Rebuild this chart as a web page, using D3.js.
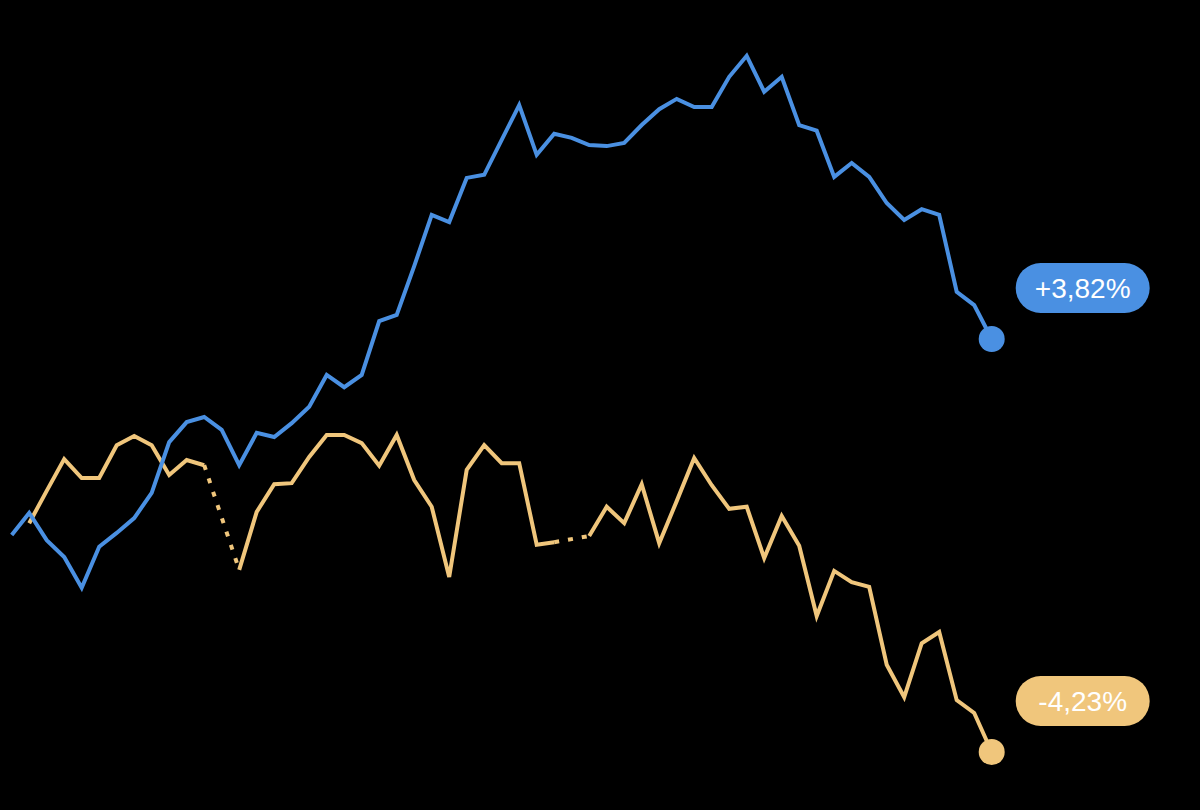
<!DOCTYPE html>
<html>
<head>
<meta charset="utf-8">
<script src="https://cdn.jsdelivr.net/npm/d3@7"></script>
<style>
  html, body { margin: 0; padding: 0; background: #000; }
  svg { display: block; }
</style>
</head>
<body>
<svg id="chart" width="1200" height="810"></svg>
<script>
// ---- data (percent change), index = time step ----
const blueValues = [0.00,0.43,-0.10,-0.43,-1.03,-0.23,0.04,0.33,0.82,1.81,
  2.20,2.30,2.05,1.36,1.99,1.91,2.18,2.50,3.12,2.88,
  3.12,4.17,4.29,5.24,6.24,6.10,6.96,7.02,7.70,8.38,
  7.41,7.82,7.74,7.60,7.58,7.64,7.99,8.30,8.50,8.34,
  8.34,8.93,9.34,8.64,8.93,7.99,7.88,6.98,7.25,6.98,
  6.47,6.14,6.35,6.24,4.74,4.48,3.82];
const orangeValues = [null,0.23,0.86,1.48,1.11,1.11,1.75,1.93,1.75,1.17,
  1.46,1.36,null,-0.68,0.45,0.99,1.01,1.52,1.95,1.95,
  1.79,1.35,1.95,1.07,0.55,-0.82,1.27,1.75,1.40,1.40,
  -0.19,-0.14,null,-0.02,0.55,0.23,0.99,-0.16,0.66,1.50,
  0.97,0.51,0.55,-0.45,0.37,-0.21,-1.58,-0.70,-0.92,-1.01,
  -2.53,-3.16,-2.11,-1.89,-3.22,-3.47,-4.23];
const seriesNames = ["blue", "orange"];
const labels = ["+3,82%", "-4,23%"];
const colors = ["#4A90E2", "#F0C67C"];

const svg = d3.select("#chart");
svg.append("rect").attr("width", 1200).attr("height", 810).attr("fill", "#000");

const n = blueValues.length;
const x = d3.scaleLinear().domain([0, n - 1]).range([11.7, 991.7]);
const y = d3.scaleLinear().domain([-4.23, 3.82]).range([752, 339]);

const series = [blueValues, orangeValues];

[1, 0].forEach(si => {
  const vals = series[si];
  const pts = vals.map((v, i) => ({i, v}));
  const color = colors[si];

  const lineAll = d3.line().x(d => x(d.i)).y(d => y(d.v));
  const defined = pts.filter(d => d.v !== null);
  const gaps = [];
  for (let k = 1; k < defined.length; k++) {
    if (defined[k].i - defined[k - 1].i > 1) gaps.push([defined[k - 1], defined[k]]);
  }
  gaps.forEach(g => {
    svg.append("path")
      .attr("d", lineAll(g))
      .attr("fill", "none")
      .attr("stroke", color)
      .attr("stroke-width", 4)
      .attr("stroke-dasharray", "5 9");
  });

  const line = d3.line()
    .defined(d => d.v !== null)
    .x(d => x(d.i)).y(d => y(d.v));
  svg.append("path")
    .attr("d", line(pts))
    .attr("fill", "none")
    .attr("stroke", color)
    .attr("stroke-width", 4)
    .attr("stroke-linejoin", "miter")
    .attr("stroke-linecap", "butt");

  const last = pts[pts.length - 1];
  svg.append("circle")
    .attr("cx", x(last.i)).attr("cy", y(last.v))
    .attr("r", 13).attr("fill", color);

  const pillW = 134, pillH = 50;
  const px = x(last.i) + 24;
  const py = y(last.v) - 51 - pillH / 2;
  svg.append("rect")
    .attr("x", px).attr("y", py)
    .attr("width", pillW).attr("height", pillH)
    .attr("rx", pillH / 2)
    .attr("fill", color);
  svg.append("text")
    .attr("x", px + pillW / 2).attr("y", py + pillH / 2)
    .attr("text-anchor", "middle")
    .attr("dominant-baseline", "central")
    .attr("fill", "#fff")
    .attr("font-family", "'Liberation Sans', Arial, sans-serif")
    .attr("font-size", 28)
    .text(labels[si]);
});
</script>
</body>
</html>
